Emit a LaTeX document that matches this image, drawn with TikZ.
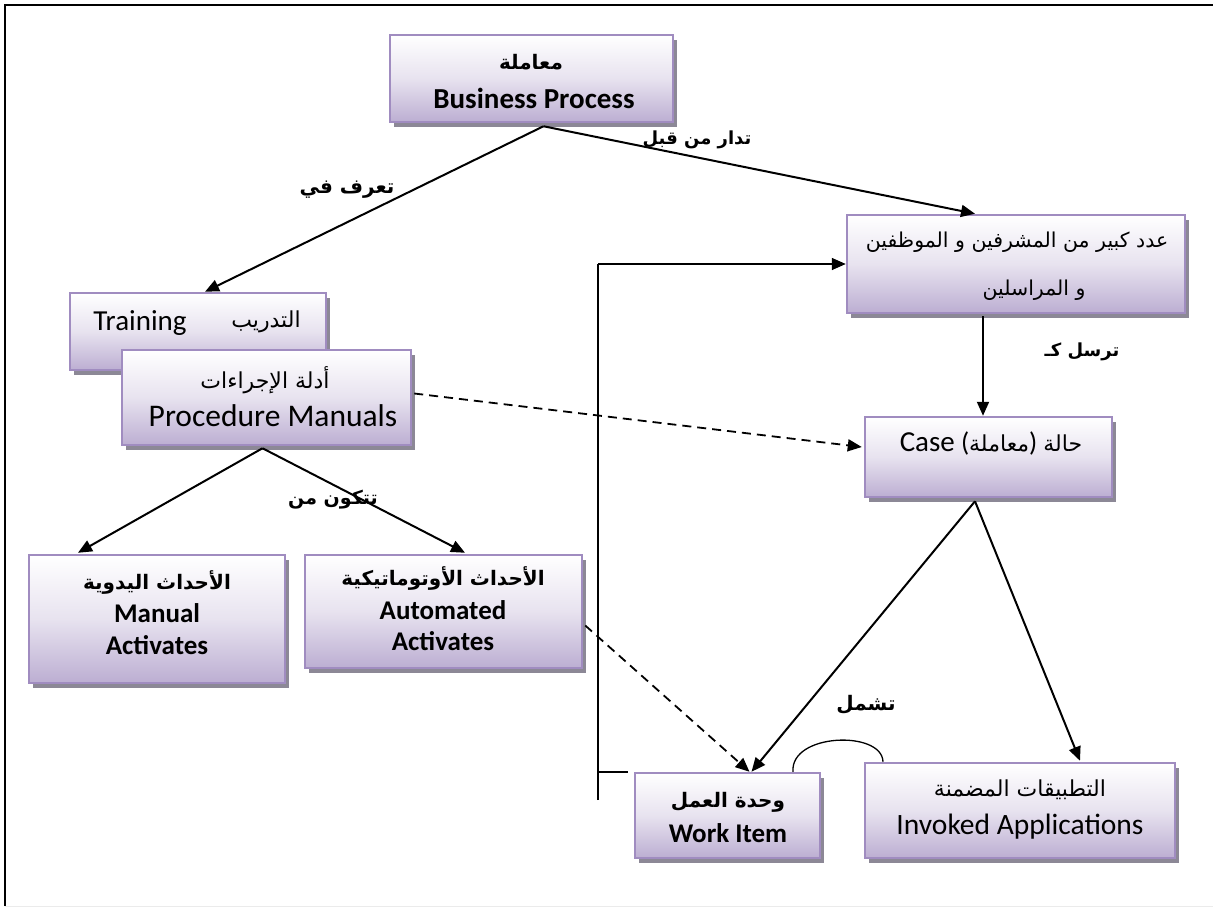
\documentclass[tikz,border=0pt]{standalone}
\usepackage{fontspec}
\setmainfont{Carlito}
\newfontfamily\ar[Script=Arabic]{DejaVu Sans}
\TeXXeTstate=1
\usetikzlibrary{shadows,arrows.meta,calc}
\definecolor{boxline}{RGB}{160,140,192}
\definecolor{boxfill}{RGB}{188,174,210}
\definecolor{boxshade}{RGB}{140,136,150}
\newcommand\RL[1]{\beginR #1\endR}
\tikzset{
  pbox/.style={draw=boxline, line width=2.5pt, top color=white, bottom color=boxfill,
    middle color=boxfill!35!white, inner sep=0pt,
    drop shadow={shadow xshift=4pt, shadow yshift=-5pt, fill=boxshade, opacity=1}},
  lat/.style={inner sep=0pt, font=\fontsize{30}{36}\selectfont},
  latb/.style={inner sep=0pt, font=\fontsize{27}{32}\selectfont\bfseries},
  arab/.style={inner sep=0pt, font=\fontsize{22}{28}\selectfont\ar},
  arabb/.style={inner sep=0pt, font=\fontsize{20}{26}\selectfont\ar\bfseries},
  lbl/.style={inner sep=0pt, font=\fontsize{19}{24}\selectfont\ar\bfseries},
  link/.style={line width=2pt, -{Triangle[length=14pt,width=12pt]}},
  dlink/.style={line width=1.8pt, dash pattern=on 9pt off 6pt, -{Triangle[length=14pt,width=12pt]}},
  plain/.style={line width=1.6pt}
}
\begin{document}
\begin{tikzpicture}[x=1pt,y=-1pt]
\useasboundingbox (0,0) rectangle (1213,907);
% frame
\draw[line width=2pt] (5,906) -- (5,5) -- (1213,5);
\draw[line width=1pt, black!8] (5,906) -- (1213,906);

% boxes
\node[pbox, minimum width=283pt, minimum height=87pt] (bp) at (531.5,78.5) {};
\node[pbox, minimum width=256pt, minimum height=77pt] (train) at (198,331.5) {};
\node[pbox, minimum width=289pt, minimum height=95pt] (proc) at (266.5,397.5) {};
\node[pbox, minimum width=338pt, minimum height=98pt] (staff) at (1016,264) {};
\node[pbox, minimum width=247pt, minimum height=80pt] (case) at (988.5,457) {};
\node[pbox, minimum width=256pt, minimum height=128pt] (manual) at (157,619) {};
\node[pbox, minimum width=277pt, minimum height=113pt] (auto) at (443.5,611.5) {};
\node[pbox, minimum width=185pt, minimum height=85pt] (work) at (727.5,815.5) {};
\node[pbox, minimum width=310pt, minimum height=95pt] (invoked) at (1020,810.5) {};

% box texts
\node[arabb] (bpA) at (531,62) {\RL{معاملة}};
\node[latb, font=\fontsize{29}{34}\selectfont\bfseries] (bpL) at (534,98) {Business Process};
\node[lat, font=\fontsize{29}{34}\selectfont] (trainL) at (140,323) {Training};
\node[arab] (trainA) at (266,322) {\RL{التدريب}};
\node[arab] (procA) at (265,380) {\RL{أدلة الإجراءات}};
\node[lat, font=\fontsize{31.5}{36}\selectfont] (procL) at (273,416) {Procedure Manuals};
\node[arab, font=\fontsize{20.5}{26}\selectfont\ar] (staffA1) at (1017,242) {\RL{عدد كبير من المشرفين و الموظفين}};
\node[arab, font=\fontsize{20.5}{26}\selectfont\ar] (staffA2) at (1034,290) {\RL{و المراسلين}};
\node[inner sep=0pt, font=\fontsize{27}{32}\selectfont] (caseT) at (991,443)
  {{\fontsize{29}{34}\selectfont Case} ({\fontsize{22}{28}\selectfont\ar\RL{معاملة}}) {\fontsize{22}{28}\selectfont\ar\RL{حالة}}};
\node[arabb] (manA) at (157,582) {\RL{الأحداث اليدوية}};
\node[latb] (manL1) at (157,613) {Manual};
\node[latb] (manL2) at (157,645) {Activates};
\node[arabb] (autoA) at (443,578) {\RL{الأحداث الأوتوماتيكية}};
\node[latb] (autoL1) at (443,610) {Automated};
\node[latb] (autoL2) at (443,641) {Activates};
\node[arabb] (workA) at (728,802) {\RL{وحدة العمل}};
\node[latb] (workL) at (728,833) {Work Item};
\node[arab] (invA) at (1020,790) {\RL{التطبيقات المضمنة}};
\node[lat, font=\fontsize{29.5}{35}\selectfont] (invL) at (1020,827) {Invoked Applications};

% connector labels
\node[lbl, font=\fontsize{20}{24}\selectfont\ar\bfseries] (l1) at (347,190) {\RL{تعرف في}};
\node[lbl, font=\fontsize{18}{22}\selectfont\ar\bfseries] (l2) at (697,140) {\RL{تدار من قبل}};
\node[lbl, font=\fontsize{18}{22}\selectfont\ar\bfseries] (l3) at (1082,352) {\RL{ترسل كـ}};
\node[lbl] (l4) at (333,500) {\RL{تتكون من}};
\node[lbl, font=\fontsize{20}{24}\selectfont\ar\bfseries] (l5) at (866,705) {\RL{تشمل}};

% connectors
\coordinate (bpOut) at ($(bp.south)+(12,3)$);
\draw[link] (bpOut) -- ($(train.north)+(7,0)$);
\draw[link] (bpOut) -- ($(staff.north)+(-41,0)$);
\draw[link] ($(staff.south)+(-33,2)$) -- ($(case.north)+(-5.5,0)$);
\coordinate (procOut) at ($(proc.south)+(-4,2)$);
\draw[link] (procOut) -- ($(manual.north)+(-79,-1)$);
\draw[link] (procOut) -- ($(auto.north)+(21.5,-1)$);
\draw[dlink] ($(proc.east)+(2,-4)$) -- ($(case.west)+(-2,-10)$);
\draw[dlink] ($(auto.east)+(2,14)$) -- ($(work.north)+(22,0)$);
\coordinate (caseOut) at ($(case.south)+(-13.5,3)$);
\draw[link] (caseOut) -- ($(work.north)+(24,0)$);
\draw[link] (caseOut) -- ($(invoked.north)+(60,-1)$);
\draw[line width=1.3pt] ($(work.north)+(65.5,0)$) .. controls (790,733) and (882,730) .. ($(invoked.north)+(-137,0)$);
% return path to the staff box
\coordinate (loopBot) at (598,800);
\coordinate (loopTop) at (598,264);
\coordinate (loopTick) at (628,772);
\draw[plain] (loopBot) -- (loopTop);
\draw[plain, -{Triangle[length=14pt,width=12pt]}] (loopTop) -- (staff.west);
\draw[plain] (598,772) -- (loopTick);
\end{tikzpicture}
\end{document}
